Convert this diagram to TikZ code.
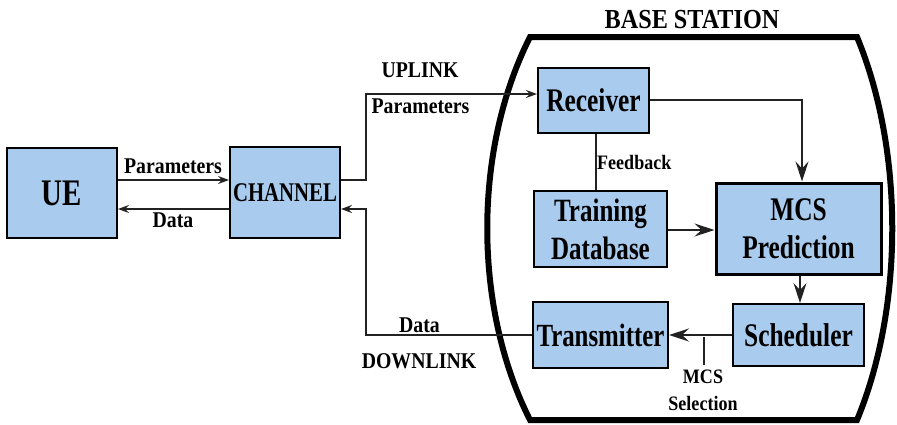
\documentclass[tikz,border=0pt]{standalone}
\usepackage{fontspec}
\usepackage{graphicx}
\setmainfont{Liberation Serif}
\newcommand{\sqz}[1]{\scalebox{0.77}[1]{#1}}
\newcommand{\smz}[1]{\scalebox{0.88}[1]{#1}}
\usetikzlibrary{arrows.meta}
\definecolor{boxblue}{HTML}{A9CBEE}
\definecolor{ln}{HTML}{222222}
\begin{document}
\begin{tikzpicture}[x=1pt,y=-1pt,
  box/.style={draw=black, fill=boxblue, line width=2pt, inner sep=0pt, align=center,
    font=\bfseries\fontsize{33}{38}\selectfont},
  conn/.style={draw=ln, line width=1.3pt},
  sarr/.style={conn, -{Stealth[length=11pt,width=8pt,inset=4pt]}},
  barr/.style={conn, -{Stealth[length=20pt,width=13pt,inset=7pt]}},
  lbl/.style={inner sep=0pt, anchor=base, font=\bfseries\fontsize{22.5}{24}\selectfont},
  slbl/.style={lbl, font=\bfseries\fontsize{20.5}{27}\selectfont},
  bs/.style={draw=black, line width=6pt, line join=miter}
]
\useasboundingbox (0,0) rectangle (897,424);

% base station outline
\draw[bs] (700,37) -- (857,37) .. controls (904,150) and (904,307) .. (857,420)
  -- (530,420) .. controls (473,307) and (473,150) .. (530,37) -- cycle;
\node[lbl, font=\bfseries\fontsize{27.5}{30}\selectfont] (bst) at (692,28) {\smz{BASE STATION}};

% boxes
\node[box, minimum width=110pt, minimum height=90pt, font=\bfseries\fontsize{37.5}{40}\selectfont] (ue) at (62,193) {\sqz{UE}};
\node[box, minimum width=110pt, minimum height=91pt, font=\bfseries\fontsize{27}{30}\selectfont] (ch) at (285,192.5) {\sqz{CHANNEL}};
\node[box, minimum width=111pt, minimum height=65pt] (rx) at (593.5,100.5) {\sqz{Receiver}};
\node[box, minimum width=133pt, minimum height=76pt, font=\bfseries\fontsize{32.5}{38}\selectfont] (td) at (600.5,229) {\sqz{Training}\\\sqz{Database}};
\node[box, line width=3pt, minimum width=165pt, minimum height=91pt] (mcs) at (798.5,228.5) {\sqz{MCS}\\\sqz{Prediction}};
\node[box, minimum width=131pt, minimum height=62pt] (sch) at (798.5,335) {\sqz{Scheduler}};
\node[box, minimum width=135pt, minimum height=66pt, font=\bfseries\fontsize{32.3}{36}\selectfont] (tx) at (600.5,335) {\sqz{Transmitter}};

% helper coordinates
\coordinate (ulc) at (366,94);
\coordinate (dlc) at (366,209);
\coordinate (mss) at (704,337);
\coordinate (mse) at (704,365);

% UE <-> channel
\draw[sarr] (ue.east |- 0,180) -- (ch.west |- 0,180);
\draw[sarr] (ch.west |- 0,209) -- (ue.east |- 0,209);
\node[lbl] (lp1) at (173,173) {\smz{Parameters}};
\node[lbl] (ld1) at (173,227) {\smz{Data}};

% uplink
\draw[sarr] (ch.east |- 0,180) -| (ulc) -- (rx.west |- ulc);
\node[lbl] (lup) at (420,77) {\smz{UPLINK}};
\node[lbl] (lp2) at (420.5,113) {\smz{Parameters}};

% downlink
\draw[sarr] (tx.west) -| (dlc) -- (ch.east |- dlc);
\node[lbl] (ld2) at (419.5,332.7) {\smz{Data}};
\node[lbl] (ldn) at (419,368) {\smz{DOWNLINK}};

% internal
\draw[barr] (rx.east |- 0,100) -| (mcs.north -| 802,0);
\draw[conn] (rx.south -| 596,0) -- (td.north -| 596,0);
\node[slbl, anchor=base west] (lfb) at (597,169) {\smz{Feedback}};
\draw[barr] (td.east |- 0,230) -- (mcs.west |- 0,230);
\draw[barr] (mcs.south -| 800,0) -- (sch.north -| 800,0);
\draw[barr] (sch.west) -- (tx.east);
\draw[conn] (mss) -- (mse);
\node[slbl] (lmcs) at (703,383) {\smz{MCS}};
\node[slbl] (lsel) at (703,410) {\smz{Selection}};
\end{tikzpicture}
\end{document}
